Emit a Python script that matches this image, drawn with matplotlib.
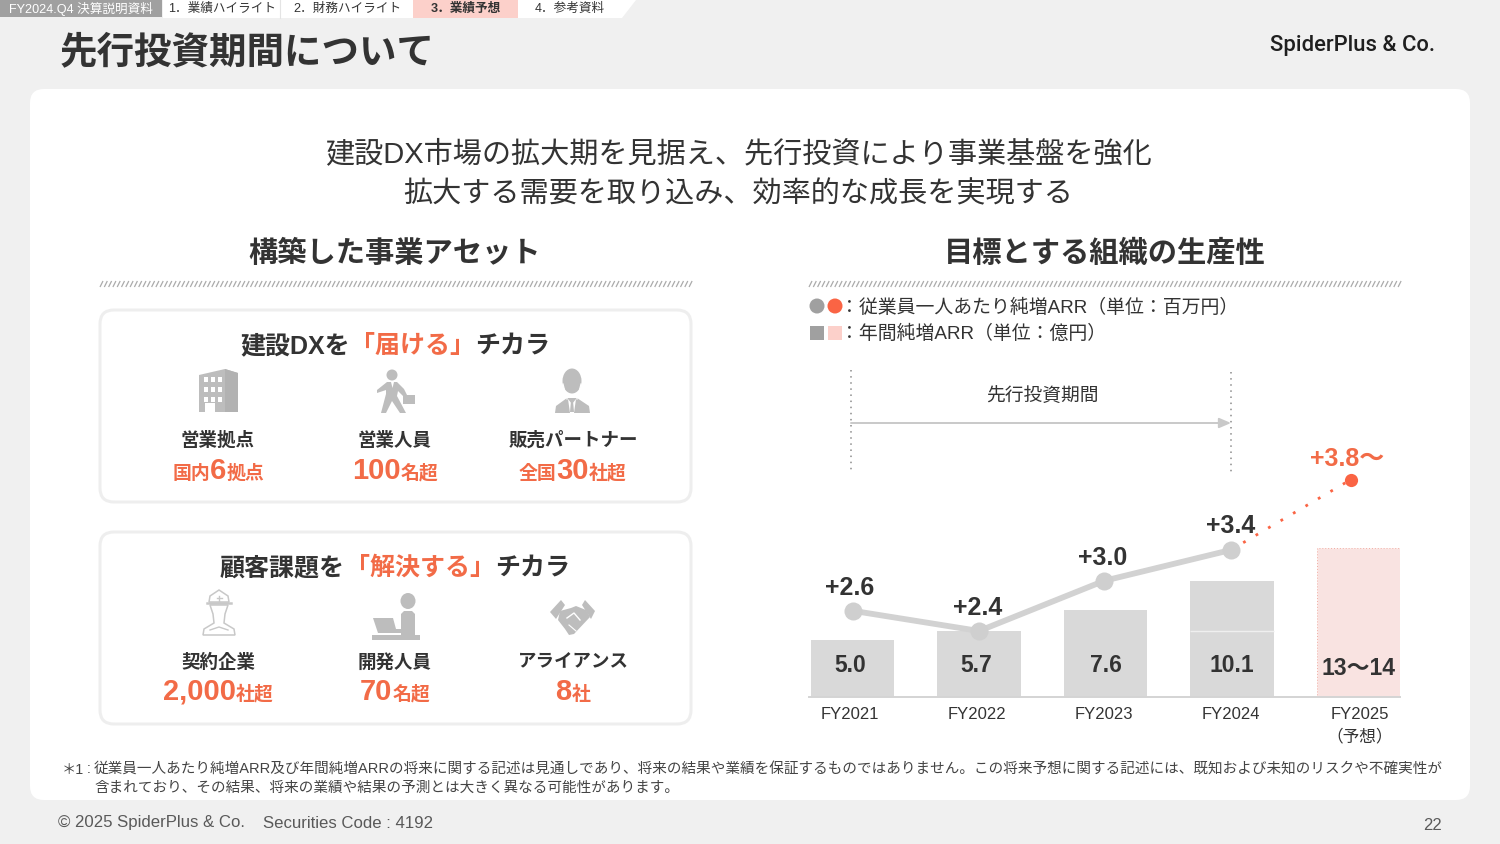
#!/usr/bin/env python3
"""
SpiderPlus FY2024 Q4 results slide: upfront investment period
"""

import numpy as np
import matplotlib
matplotlib.use("Agg")
import matplotlib.pyplot as plt
from matplotlib.patches import FancyBboxPatch, Rectangle, Polygon, Circle, Ellipse
from matplotlib.collections import LineCollection

FONT = ['Liberation Sans', 'Noto Sans CJK JP']
plt.rcParams['font.family'] = FONT

# chart data
fiscal_years = ['FY2021', 'FY2022', 'FY2023', 'FY2024', 'FY2025\n（予想）']
arr_values = [5.0, 5.7, 7.6, 10.1, 13.0]
arr_labels = ['5.0', '5.7', '7.6', '10.1', '13～14']
per_head_x = [0, 1, 1.99, 2.99, 3.94]
per_head_values = [2.65, 2.4, 3.02, 3.4, 4.27]
per_head_labels = ['+2.6', '+2.4', '+3.0', '+3.4', '+3.8～']

# slide text
nav_tabs = ['1．業績ハイライト', '2．財務ハイライト', '3．業績予想', '4．参考資料']
nav_centers = [222, 347, 466, 570]
asset_labels_top = ['営業拠点', '営業人員', '販売パートナー']
asset_labels_bottom = ['契約企業', '開発人員', 'アライアンス']
asset_values_top = [[('国内', 13.6), ('6', 21), ('拠点', 13.6)], [('100', 21), ('名超', 13.6)],
                    [('全国', 13.6), ('30', 21), ('社超', 13.6)]]
asset_values_bottom = [[('2,000', 21), ('社超', 13.6)], [('70', 21), ('名超', 13.6)],
                       [('8', 21), ('社', 13.6)]]
column_x = [218, 395, 573]

DARK = '#333333'
ORANGE = '#F26B47'
RED = '#FA6444'
GRAY = '#BDBDBD'
BAR = '#D9D9D9'

fig = plt.figure(figsize=(15, 8.44), dpi=100, facecolor='#F0F0F0')
ax = fig.add_axes([0, 0, 1, 1])
ax.set_xlim(0, 1500)
ax.set_ylim(844, 0)
ax.axis('off')
renderer = fig.canvas.get_renderer()


def label(x, y, s, size, color=DARK, weight='normal', ha='center', va='center'):
    return ax.text(x, y, s, fontsize=size, color=color, fontweight=weight, ha=ha, va=va)


def text_runs(cx, y, runs, weight='bold'):
    """Centre several differently styled pieces of text on one baseline"""
    items = []
    total = 0
    for s, size, color in runs:
        t = ax.text(0, y, s, fontsize=size, color=color, fontweight=weight, ha='left', va='baseline')
        w = t.get_window_extent(renderer).width
        items.append((t, w))
        total += w
    x = cx - total / 2
    for t, w in items:
        t.set_x(x)
        x += w


def rounded(x0, y0, x1, y1, r, face='white', edge='none', lw=0):
    ax.add_patch(FancyBboxPatch((x0 + r, y0 + r), x1 - x0 - 2 * r, y1 - y0 - 2 * r,
                                boxstyle=f'round,pad={r},rounding_size={r}',
                                fc=face, ec=edge, lw=lw))


def divider(x0, x1, y):
    xs = np.arange(x0, x1 - 1, 4.3)
    segs = [[(x, y + 3), (x + 3, y - 3)] for x in xs]
    ax.add_collection(LineCollection(segs, colors='#ABABAB', linewidths=0.9))


def shape(cx, cy, pts, face=GRAY, edge='none', lw=0):
    ax.add_patch(Polygon([(cx + px, cy + py) for px, py in pts], fc=face, ec=edge, lw=lw))


def icon_building(cx, cy):
    shape(cx, cy, [(-19, -16), (7, -22), (20, -18), (20, 21), (-19, 21)])
    shape(cx, cy, [(7, -22), (20, -18), (20, 21), (7, 21)], face='#B2B2B2')
    for row_y in [-14, -4, 6]:
        for col_x in [-14, -7, 0]:
            ax.add_patch(Rectangle((cx + col_x, cy + row_y), 4, 4.5, fc='white', ec='none'))
    ax.add_patch(Rectangle((cx - 13, cy + 12), 10, 9, fc='white', ec='none'))


def icon_walker(cx, cy):
    ax.add_patch(Circle((cx - 3, cy - 16), 5.5, fc=GRAY, ec='none'))
    shape(cx, cy, [(-8, -9), (2, -9), (9, -2), (12, 4), (9, 6), (3, 0), (2, 5), (11, 22), (5, 22),
                   (-3, 10), (-9, 22), (-14, 22), (-9, 3), (-9, -1), (-18, 2), (-18, -1)])
    shape(cx, cy, [(-4, -9), (-1, -9), (-2.5, -3)], face='white')
    ax.add_patch(Rectangle((cx + 8, cy + 4), 12, 9, fc=GRAY, ec='none'))


def icon_person(cx, cy):
    ax.add_patch(Ellipse((cx - 1, cy - 10), 19, 25, fc=GRAY, ec='none'))
    shape(cx, cy, [(-18, 22), (-17, 15), (-6, 7), (4, 7), (16, 15), (17, 22)])
    shape(cx, cy, [(-5, 8), (-1, 13), (3, 8), (1, 22), (-3, 22)], face='white')
    ax.plot([cx - 10, cx - 8, cx - 6, cx - 6], [cy - 7, cy + 1, cy + 4, cy + 8], color='white', lw=0.9)
    ax.plot([cx + 8, cx + 6, cx + 4, cx + 4], [cy - 7, cy + 1, cy + 4, cy + 8], color='white', lw=0.9)
    shape(cx, cy, [(-2, 10), (0, 10), (1, 21), (-3, 21)])


def icon_worker(cx, cy):
    line = '#C8C8C8'
    shape(cx, cy, [(-16, 21), (-15, 15), (-5, 9), (-6, 0), (-9, -9), (9, -9), (6, 0), (5, 9), (15, 15), (16, 21)],
          face='white', edge=line, lw=1.1)
    shape(cx, cy, [(-10, -12), (-9, -18), (-3, -22), (0, -24), (3, -22), (9, -18), (10, -12)],
          face='white', edge=line, lw=1.1)
    ax.plot([cx - 12, cx + 12], [cy - 11, cy - 11], color=line, lw=1.8)
    ax.plot([cx - 2.5, cx + 2.5], [cy - 16, cy - 16], color=line, lw=1)
    ax.plot([cx, cx], [cy - 18.5, cy - 13.5], color=line, lw=1)
    ax.plot([cx - 9, cx, cx + 9], [cy + 16, cy + 13, cy + 16], color=line, lw=1)


def icon_developer(cx, cy):
    ax.add_patch(Ellipse((cx + 12, cy - 13), 15, 16, fc=GRAY, ec='none'))
    shape(cx, cy, [(5, 0), (8, -3), (16, -3), (19, 0), (19, 21), (5, 21)])
    shape(cx, cy, [(-23, 4), (-3, 4), (0, 15), (5, 15), (5, 19), (-18, 19)])
    ax.add_patch(Rectangle((cx - 24, cy + 21), 48, 5, fc=GRAY, ec='none'))


def icon_handshake(cx, cy):
    shape(cx, cy, [(-13, -6), (-2, -9), (3, -11), (13, -7), (17, 0), (1, 17), (-4, 18), (-8, 12), (-15, 3)])
    shape(cx, cy, [(-23, -5), (-12, -17), (-8, -12), (-17, 2)])
    shape(cx, cy, [(22, -6), (12, -17), (9, -12), (18, 2)])
    ax.plot([cx - 6, cx + 1, cx + 7], [cy + 1, cy - 4, cy + 3], color='white', lw=1)
    ax.plot([cx - 4, cx + 3], [cy + 8, cy + 14], color='white', lw=0.8)


# header strip
ax.add_patch(Rectangle((0, 0), 162, 17, fc='#A0A0A0', ec='none'))
label(81, 9, 'FY2024.Q4 決算説明資料', 9.1, color='white')
ax.add_patch(Polygon([(163, 0), (636, 0), (622, 18), (163, 18)], fc='white', ec='none'))
ax.add_patch(Rectangle((413, 0), 105, 18, fc='#FCD0CA', ec='none'))
ax.plot([280, 280], [0, 18], color='#E4E4E4', lw=0.8)
for name, x in zip(nav_tabs, nav_centers):
    selected = name.startswith('3')
    label(x, 9, name, 9.1, color=DARK, weight='bold' if selected else 'normal')

label(60, 53, '先行投資期間について', 27, weight='bold', ha='left')
ax.text(1270, 45, 'SpiderPlus & Co.', fontsize=15.8, color='#1F1F1F', fontweight=500,
        ha='left', va='center', family=['Roboto', 'Noto Sans CJK JP'])

# white panel
rounded(30, 89, 1470, 800, 14)

label(738, 154, '建設DX市場の拡大期を見据え、先行投資により事業基盤を強化', 21)
label(738, 194.5, '拡大する需要を取り込み、効率的な成長を実現する', 21)

label(395, 254, '構築した事業アセット', 21.1, weight='bold')
label(1105, 254, '目標とする組織の生産性', 21.1, weight='bold')
divider(100, 691, 284)
divider(809, 1400, 284)

# left boxes
for top, bottom in [(310, 502), (532, 724)]:
    rounded(100, top, 691, bottom, 14, edge='#EEEEEE', lw=2.2)

text_runs(395, 353, [('建設DXを', 18, DARK), ('「届ける」', 18, ORANGE), ('チカラ', 18, DARK)])
text_runs(395, 575, [('顧客課題を', 18, DARK), ('「解決する」', 18, ORANGE), ('チカラ', 18, DARK)])

for i, x in enumerate(column_x):
    label(x, 441, asset_labels_top[i], 13.3, weight='bold')
    label(x, 663, asset_labels_bottom[i], 13.3, weight='bold')
    text_runs(x, 479, [(s, size, ORANGE) for s, size in asset_values_top[i]])
    text_runs(x, 700, [(s, size, ORANGE) for s, size in asset_values_bottom[i]])

icon_building(218, 391)
icon_walker(395, 391)
icon_person(573, 391)
icon_worker(219, 614)
icon_developer(396, 614)
icon_handshake(573, 617)

# legend for the chart
ax.add_patch(Circle((817, 306), 7.5, fc='#A0A0A0', ec='none'))
ax.add_patch(Circle((835, 306), 7.5, fc=RED, ec='none'))
ax.add_patch(Rectangle((810, 326), 14, 14, fc='#A0A0A0', ec='none'))
ax.add_patch(Rectangle((828, 326), 14, 14, fc='#FCD0CA', ec='none'))
label(840, 308, '：従業員一人あたり純増ARR（単位：百万円）', 13.6, ha='left')
label(840, 334, '：年間純増ARR（単位：億円）', 13.6, ha='left')

# upfront investment period marker
ax.plot([850.5, 850.5], [370, 471], color='#8C8C8C', lw=1.1, ls=(0, (1, 3)))
ax.plot([1231, 1231], [372, 473], color='#8C8C8C', lw=1.1, ls=(0, (1, 3)))
ax.annotate('', xy=(1231, 423), xytext=(851, 423),
            arrowprops=dict(arrowstyle='-|>,head_length=0.7,head_width=0.3', color='#C9C9C9', lw=1.4,
                            shrinkA=0, shrinkB=0))
label(1042, 396, '先行投資期間', 13.5)

# chart: pixel box 809..1400 wide, baseline at y=697
chart = fig.add_axes([809 / 1500, 1 - 697 / 844, 591 / 1500, 257 / 844], facecolor='none')
xs = np.arange(len(arr_values))
colors = [BAR] * 4 + ['#F9E3E1']
bars = chart.bar(xs, arr_values, width=0.66, color=colors, zorder=2)
bars[-1].set_edgecolor('#F2ACA2')
bars[-1].set_linestyle((0, (1, 2)))
bars[-1].set_linewidth(0.7)
chart.hlines(arr_values[1], xs[3] - 0.33, xs[3] + 0.33, color='#EFEFEF', lw=1, zorder=3)
chart.set_xlim(-0.344, 4.328)
chart.set_ylim(0, 257 / 11.5)
chart.set_yticks([])
chart.set_xticks(xs - np.array([0.02, 0.02, 0.01, 0.01, -0.01]))
chart.set_xticklabels(fiscal_years, fontsize=12, color=DARK, linespacing=1.5)
chart.tick_params(axis='x', length=0, pad=7.5)
for side in ['top', 'left', 'right']:
    chart.spines[side].set_visible(False)
chart.spines['bottom'].set_color('#D4D4D4')
chart.spines['bottom'].set_linewidth(1.4)
label_shift = [-0.02, -0.02, 0, 0, 0]
for i, s in enumerate(arr_labels):
    y = 2.45 if i == 4 else 2.7
    chart.text(xs[i] + label_shift[i], y, s, fontsize=16.5, fontweight='bold', color=DARK,
               ha='center', va='center', zorder=4)

line_ax = chart.twinx()
line_ax.set_ylim((825.4 - 697) / 81, (825.4 - 440) / 81)
line_ax.set_yticks([])
line_ax.patch.set_visible(False)
for spine in line_ax.spines.values():
    spine.set_visible(False)
line_ax.plot(per_head_x[3:], per_head_values[3:], color=RED, lw=2, ls=(0, (1, 4.2)), zorder=3)
line_ax.plot(per_head_x[:4], per_head_values[:4], color='#D2D2D2', lw=4.2, marker='o', ms=13,
             mfc='#CFCFCF', mec='none', zorder=4)
line_ax.plot(per_head_x[4:], per_head_values[4:], color=RED, marker='o', ms=9.5, mec='none', zorder=4)
label_dx = [-2, -1, -1, 0, -3]
label_dy = [16.5, 16.5, 16.5, 17, 15]
for i, s in enumerate(per_head_labels):
    forecast = i == len(per_head_labels) - 1
    line_ax.annotate(s, (per_head_x[i], per_head_values[i]), xytext=(label_dx[i], label_dy[i]),
                     textcoords='offset points', fontsize=18, fontweight='bold',
                     color=ORANGE if forecast else DARK, ha='center', va='center')

# footnote and footer
label(62, 770, '＊1', 10.3, color='#444444', ha='left')
label(87, 769, ':', 10.3, color='#444444', ha='left')
label(94, 770, '従業員一人あたり純増ARR及び年間純増ARRの将来に関する記述は見通しであり、将来の結果や業績を保証するものではありません。'
      'この将来予想に関する記述には、既知および未知のリスクや不確実性が', 10.5, color='#444444', ha='left')
label(94, 788, '含まれており、その結果、将来の業績や結果の予測とは大きく異なる可能性があります。', 10.5, color='#444444', ha='left')
label(58, 823, '© 2025 SpiderPlus & Co.', 12.1, color='#595959', ha='left')
label(263, 823, 'Securities Code : 4192', 12.1, color='#595959', ha='left')
label(1432, 825, '22', 12, color='#595959')

fig.savefig('out.png', dpi=100, facecolor=fig.get_facecolor())
